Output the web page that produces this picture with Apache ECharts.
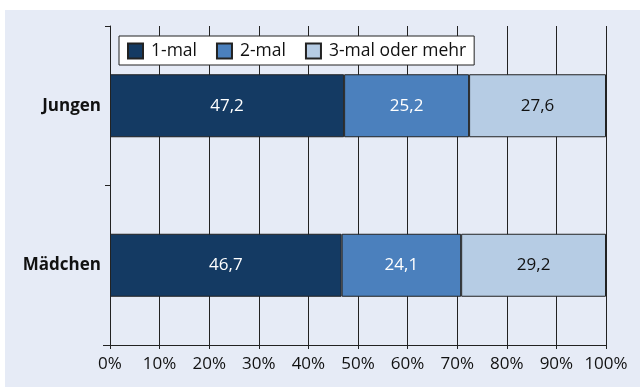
<!DOCTYPE html>
<html>
<head>
<meta charset="utf-8">
<script src="https://cdn.jsdelivr.net/npm/echarts@6/dist/echarts.min.js"></script>
<style>
  html, body { margin: 0; padding: 0; background: #ffffff; }
  #chart { position: absolute; left: 5px; top: 10px; width: 635px; height: 377px; }
</style>
</head>
<body>
<div id="chart"></div>
<script>
// Häufigkeit nach Geschlecht, Anteile in Prozent (gestapelt auf 100 %)
const categories = ['Mädchen', 'Jungen'];
const seriesNames = ['1-mal', '2-mal', '3-mal oder mehr'];
const einmal = [46.7, 47.2];
const zweimal = [24.1, 25.2];
const dreimalMehr = [29.2, 27.6];
const xTicks = [0, 10, 20, 30, 40, 50, 60, 70, 80, 90, 100];

const colors = ['#143a63', '#4b80bd', '#b6cce4'];
const labelColors = ['#ffffff', '#ffffff', '#111111'];
const values = [einmal, zweimal, dreimalMehr];
const FONT = '"Open Sans", sans-serif';
const LINE = '#222222';

const chart = echarts.init(document.getElementById('chart'));
chart.setOption({
  backgroundColor: '#e6ebf6',
  animation: false,
  textStyle: { fontFamily: FONT },
  grid: { left: 105, right: 34, top: 16, bottom: 42 },
  legend: {
    left: 114, top: 26,
    backgroundColor: '#ffffff',
    borderColor: LINE, borderWidth: 1,
    padding: [6, 8, 5, 8],
    icon: 'rect',
    itemWidth: 15, itemHeight: 15, itemGap: 19,
    textStyle: { fontFamily: FONT, fontSize: 17.5, color: '#111111', padding: [0, 0, 0, 3] },
    data: seriesNames
  },
  xAxis: {
    type: 'value', min: xTicks[0], max: xTicks[xTicks.length - 1], interval: 10,
    axisLine: { show: true, lineStyle: { color: LINE, width: 1 } },
    axisTick: { show: true, length: 4, lineStyle: { color: LINE } },
    splitLine: { show: true, lineStyle: { color: LINE, width: 1 } },
    axisLabel: { formatter: '{value}%', fontFamily: FONT, fontSize: 17, color: '#111111', margin: 11 }
  },
  yAxis: {
    type: 'category', data: categories,
    axisLine: { show: true, lineStyle: { color: LINE, width: 1 } },
    axisTick: { show: true, length: 5, lineStyle: { color: LINE } },
    axisLabel: { fontFamily: FONT, fontSize: 17, fontWeight: 'bold', color: '#111111', margin: 9 }
  },
  series: seriesNames.map((name, i) => ({
    name,
    type: 'bar',
    stack: 'gesamt',
    barWidth: 63,
    data: values[i],
    itemStyle: { color: colors[i], borderColor: LINE, borderWidth: 1 },
    label: {
      show: true, position: 'inside',
      formatter: p => String(p.value).replace('.', ','),
      fontFamily: FONT, fontSize: 17, color: labelColors[i]
    }
  }))
});

// The value axis line runs a few pixels past the category axis on the left.
const origin = chart.convertToPixel({ xAxisIndex: 0, yAxisIndex: 0 }, [0, 0]);
const yBottom = chart.getModel().getComponent('grid').coordinateSystem.getRect();
const axisY = Math.round(yBottom.y + yBottom.height) + 0.5;
chart.setOption({
  graphic: [{
    type: 'line', silent: true, z: 10,
    shape: { x1: yBottom.x - 7, y1: axisY, x2: yBottom.x, y2: axisY },
    style: { stroke: LINE, lineWidth: 1 }
  }]
});
</script>
</body>
</html>
